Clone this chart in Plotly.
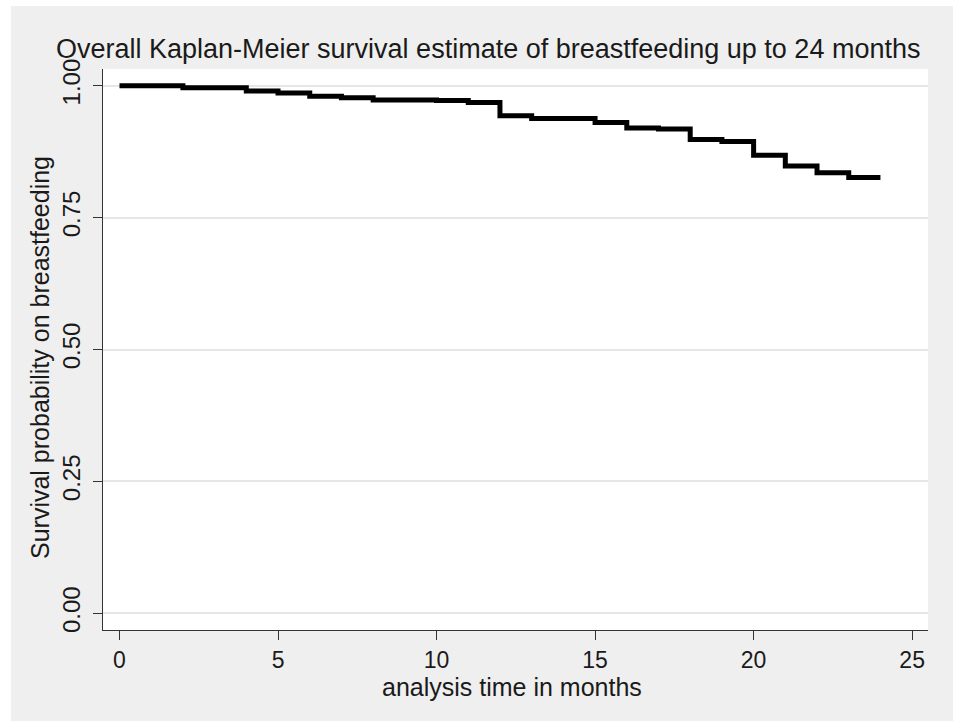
import plotly.graph_objects as go

# Data (Kaplan-Meier step function)
months = [0, 2, 4, 5, 6, 7, 8, 10, 11, 12, 13, 15, 16, 17, 18, 19, 20, 21, 22, 23, 24]
survival = [1.000, 0.996, 0.990, 0.986, 0.980, 0.977, 0.973, 0.972, 0.968, 0.943,
            0.938, 0.930, 0.920, 0.918, 0.898, 0.894, 0.868, 0.848, 0.835, 0.826, 0.826]
x_ticks = [0, 5, 10, 15, 20, 25]
y_ticks = [0.0, 0.25, 0.5, 0.75, 1.0]
y_tick_labels = ["0.00", "0.25", "0.50", "0.75", "1.00"]

title_text = "Overall Kaplan-Meier survival estimate of breastfeeding up to 24 months"
x_title = "analysis time in months"
y_title = "Survival probability on breastfeeding"

FONT = "Liberation Sans, Arial, sans-serif"
W, H = 953, 721
L, R, T, B = 103, 25, 69, 91
PW, PH = W - L - R, H - T - B

def px_x(p):
    return (p - L) / PW

def px_y(p):
    return 1 + (T - p) / PH

fig = go.Figure()
fig.add_trace(go.Scatter(
    x=months, y=survival, mode="lines",
    line=dict(shape="hv", color="black", width=5),
    hoverinfo="x+y", showlegend=False,
))

fig.update_layout(
    width=W, height=H,
    margin=dict(l=L, r=R, t=T, b=B),
    paper_bgcolor="#efefef",
    plot_bgcolor="white",
    font=dict(family=FONT, size=24, color="#1a1a1a"),
    xaxis=dict(
        range=[-0.52, 25.5], tickvals=x_ticks, ticks="outside", ticklen=9,
        tickcolor="#333", tickwidth=1, showline=True, linecolor="#333", linewidth=1,
        showgrid=False, zeroline=False, tickfont=dict(size=23),
    ),
    yaxis=dict(
        range=[-0.0316, 1.0316], tickvals=y_ticks, ticktext=y_tick_labels,
        ticks="outside", ticklen=9, tickcolor="#333", tickwidth=1,
        showline=True, linecolor="#333", linewidth=1,
        showgrid=True, gridcolor="#e6e6e6", gridwidth=1.5, zeroline=False,
        tickangle=-90, tickfont=dict(size=24), ticklabelstandoff=3,
    ),
    shapes=[
        dict(type="rect", xref="paper", yref="paper", x0=px_x(-5), x1=px_x(11),
             y0=px_y(730), y1=px_y(-5), fillcolor="white", line=dict(width=0), layer="below"),
        dict(type="rect", xref="paper", yref="paper", x0=px_x(-5), x1=px_x(960),
             y0=px_y(6), y1=px_y(-5), fillcolor="white", line=dict(width=0), layer="below"),
    ],
    annotations=[
        dict(text=title_text, xref="paper", yref="paper", x=px_x(488), y=px_y(49),
             xanchor="center", yanchor="middle", showarrow=False,
             font=dict(size=27, family=FONT, color="#1a1a1a")),
        dict(text=x_title, xref="paper", yref="paper", x=px_x(512), y=px_y(687),
             xanchor="center", yanchor="middle", showarrow=False,
             font=dict(size=25, family=FONT, color="#1a1a1a")),
        dict(text=y_title, xref="paper", yref="paper", x=px_x(40), y=px_y(358),
             xanchor="center", yanchor="middle", showarrow=False, textangle=-90,
             font=dict(size=25, family=FONT, color="#1a1a1a")),
    ],
)

fig.write_html("out.html", config={"displayModeBar": False},
               post_script="document.body.style.margin='0';")
